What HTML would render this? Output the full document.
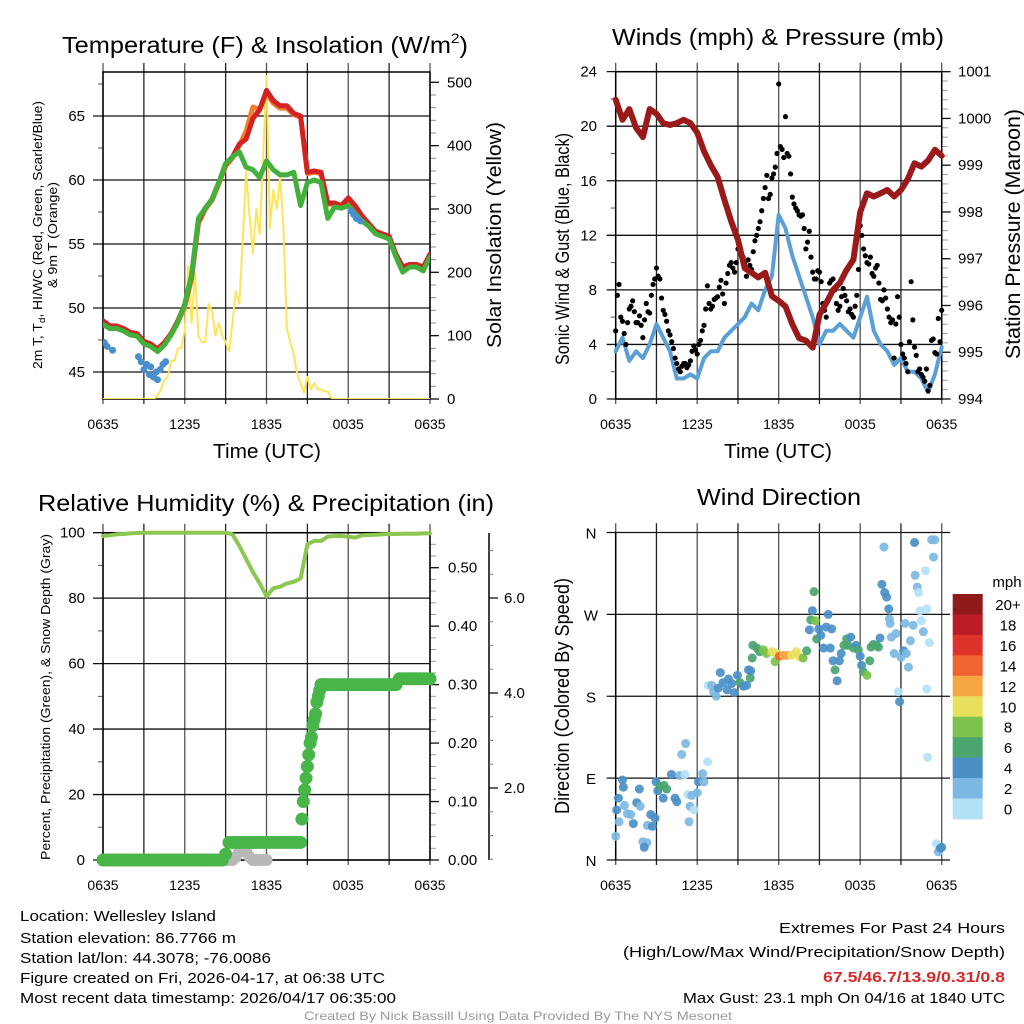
<!DOCTYPE html>
<html><head><meta charset="utf-8"><style>
html,body{margin:0;padding:0;background:#fff;}
svg{display:block;font-family:"Liberation Sans",sans-serif;}
</style></head><body>
<svg id="chart" width="1024" height="1024" viewBox="0 0 1024 1024"></svg>
<script>
// ---------- DATA ----------
const HALF_TIMES_COUNT = 49;
const tempRed = [49.0,48.6,48.6,48.4,48.1,48.0,47.4,47.2,46.8,47.3,48.0,49.0,50.3,52.5,56.8,57.8,58.5,59.8,61.2,61.8,62.8,63.2,64.8,65.5,67.0,66.2,65.8,65.8,65.2,65.0,60.6,60.7,60.6,58.2,58.2,58.0,58.6,58.0,57.2,56.6,56.0,55.8,55.6,54.2,53.2,53.4,53.4,53.2,54.2];
const tempOrange = [48.9,48.5,48.5,48.3,48.0,47.9,47.3,47.1,46.7,47.2,47.9,48.9,50.1,52.3,56.6,57.7,58.4,59.7,61.1,61.7,62.7,63.8,65.7,65.5,66.8,66.0,65.6,65.6,65.1,64.9,60.5,60.6,60.5,58.1,58.1,57.9,58.5,57.9,57.1,56.5,55.9,55.7,55.5,54.1,53.1,53.3,53.3,53.1,54.1];
const tempGreen = [48.7,48.4,48.4,48.2,47.9,47.8,47.2,47.0,46.6,47.1,47.9,48.9,50.3,52.6,57.0,57.8,58.5,59.8,61.3,61.8,62.2,61.0,60.8,60.2,61.5,60.8,60.4,60.4,60.6,58.0,59.8,60.0,59.8,57.0,57.9,57.8,58.0,57.4,56.8,56.4,55.8,55.6,55.4,54.0,52.8,53.2,53.2,52.9,54.0];
const wcTimes = [0.1,0.3,0.7,2.6,2.8,3.0,3.2,3.4,3.5,3.7,3.9,4.0,4.2,4.4,4.6,18.2,18.4,18.6,18.9];
const wcValues = [47.3,47.0,46.7,46.2,45.8,45.2,45.6,44.8,45.4,44.6,45.0,44.4,45.2,45.6,45.8,57.6,57.3,57.0,56.8];
const solar = [0,0,0,0,0,0,0,0,0,0,0,0,0,0,0,0,5,15,30,35,60,60,80,80,110,210,120,200,100,90,90,150,140,100,120,100,90,75,120,170,150,250,360,290,230,300,260,380,510,270,330,300,350,270,110,90,70,40,25,10,35,15,25,15,15,12,12,2,0,0,0,0,0,0,0,0,0,0,0,0,0,0,0,0,0,0,0,0,0,0,0,0,0,0,0,0,0];
const tempTicks = [45,50,55,60,65];
const solarTicks = [0,100,200,300,400,500];
const timeLabels = ["0635","1235","1835","0035","0635"];

const pressure = [1000.4,999.97,1000.2,999.8,999.6,1000.2,1000.1,999.9,999.86,999.9,999.97,999.9,999.7,999.3,999.0,998.75,998.26,997.8,997.4,996.8,996.7,996.6,996.7,996.2,996.1,995.98,995.6,995.3,995.25,995.1,995.8,996.05,996.33,996.48,996.76,996.98,998.0,998.4,998.33,998.4,998.47,998.33,998.47,998.7,999.04,998.97,999.1,999.33,999.2];
const windSpeed = [3.5,4.5,2.8,3.5,3.0,4.0,5.5,4.5,3.5,1.5,1.5,1.8,1.5,3.0,3.5,3.5,4.5,5.0,5.5,6.0,7.0,6.5,8.0,9.0,13.5,12.5,10.5,9.0,7.5,6.0,4.0,5.0,5.0,5.5,5.0,4.5,6.0,7.5,5.0,4.0,3.5,2.5,3.0,2.0,2.0,1.5,0.5,1.8,3.8];
const gust = [5.0,8.4,5.7,4.0,6.6,7.2,5.6,6.1,4.5,7.0,6.3,8.4,9.6,8.8,6.5,5.7,4.7,3.7,2.6,2.0,2.6,2.3,2.8,3.9,3.3,4.3,5.4,8.3,6.6,7.3,7.5,8.7,7.0,9.2,10.0,9.3,11.0,10.7,10.0,10.2,9.5,11.6,12.5,13.8,15.5,14.7,16.2,17.0,23.1,18.3,20.7,17.8,14.8,14.0,13.5,13.5,11.0,12.3,9.3,8.8,9.3,7.0,6.0,8.5,8.8,7.0,6.8,8.1,7.2,6.6,6.0,7.6,12.7,11.0,10.0,10.4,9.0,9.8,7.3,8.0,6.6,5.6,3.0,7.5,4.0,3.0,2.0,8.6,3.8,2.0,1.8,1.3,0.6,4.3,3.4,5.9,6.5];
const gustB = [7.6,6.0,4.8,5.6,6.8,6.4,5.6,5.4,5.8,6.4,
  7.6,8.8,9.0,7.4,6.2,5.0,4.2,3.0,2.2,2.4,
  2.6,2.5,3.5,3.6,4.0,5.0,6.6,7.0,6.8,7.4,
  8.2,7.7,8.5,9.8,9.6,10.0,10.9,10.4,9.0,9.8,
  10.8,12.0,13.0,14.7,16.4,15.0,16.5,18.0,18.5,17.7,
  18.0,16.5,14.3,13.8,13.4,12.5,11.5,10.4,8.8,9.4,
  8.6,6.5,7.2,8.7,8.0,6.5,7.5,7.6,6.4,6.2,
  6.8,9.5,12.0,10.5,9.9,9.2,9.6,8.5,7.2,7.4,
  6.0,5.8,5.5,6.0,3.3,2.6,4.2,5.8,3.2,2.2,
  1.6,2.2,1.0,4.4,3.3,4.2];
const windTicks = [0,4,8,12,16,20,24];
const pressTicks = [994,995,996,997,998,999,1000,1001];

const rh = [99.0,99.2,99.5,99.6,99.8,99.9,100,100,100,100,100,100,100,100,100,100,100,100,100,99.5,96,92,88,84.5,80.5,83,83.5,84.5,85,86,96.5,97.5,97.5,98.8,99,99,98.8,98.5,99.2,99.3,99.4,99.5,99.6,99.6,99.7,99.7,99.7,99.8,99.8];
// precipitation: part A quarter-hours 0..14.5, part B 14.6..16.2 every 0.1 h, part C quarter-hours 16.25..24
const precipA = [0,0,0,0,0,0,0,0,0,0,
  0,0,0,0,0,0,0,0,0,0,
  0,0,0,0,0,0,0,0,0,0,
  0,0,0,0,0,0,
  0.01,
  0.03,0.03,0.03,0.03,0.03,0.03,0.03,0.03,0.03,0.03,
  0.03,0.03,0.03,0.03,0.03,0.03,0.03,0.03,0.03,0.03,
  0.03,0.03];
const precipB = [0.07,0.10,0.12,0.14,0.16,0.18,0.20,0.21,0.23,0.24,0.25,0.27,0.28,0.29,0.30,0.30,0.30];
const precipC = [0.30,0.30,0.30,0.30,0.30,0.30,0.30,0.30,0.30,0.30,
  0.30,0.30,0.30,0.30,0.30,0.30,0.30,0.30,0.30,0.30,
  0.30,0.30,
  0.31,0.31,0.31,0.31,0.31,0.31,0.31,0.31,0.31,0.31];
const snowTimes = [9.0,9.25,9.5,9.75,10.0,10.25,10.5,10.75,11.0,11.25,11.5,11.75,12.0];
const snow = [0,0,0,0.05,0.15,0.15,0.15,0.05,0,0,0,0,0];
const rhTicks = [0,20,40,60,80,100];
const precipTicks = [0,0.1,0.2,0.3,0.4,0.5];
const precipLabels = ["0.00","0.10","0.20","0.30","0.40","0.50"];
const snowTicks = [2,4,6];
const snowLabels = ["2.0","4.0","6.0"];

const dirTimes = [0,0.07,0.2,0.5,0.56,0.64,0.25,0.86,1.1,1.3,1.55,1.74,1.8,2.0,2.3,2.1,2.33,2.58,2.7,2.9,2.97,3.1,3.26,3.56,3.75,3.5,4.1,4.37,4.5,4.7,4.86,5.15,5.1,5.3,5.6,5.47,5.4,5.77,6.0,6.1,6.4,6.5,6.77,6.8,7.07,7.2,7.4,7.55,7.7,7.9,8.2,8.3,8.54,8.74,8.96,9.15,9.4,9.64,9.77,9.9,9.94,10.1,10.05,10.4,10.6,10.87,11.1,11.5,11.73,11.85,12.05,12.34,12.64,12.96,13.3,13.57,13.8,14.06,14.26,14.36,14.48,14.6,14.7,14.8,14.95,15.1,15.3,15.5,15.65,15.8,15.9,16.0,16.15,16.3,16.47,16.6,16.8,17.0,17.1,17.3,17.5,17.7,17.86,18.0,18.1,18.23,18.5,18.7,18.8,18.97,19.2,19.34,19.46,19.6,19.75,19.8,19.95,20.1,20.15,20.2,20.3,20.5,20.64,20.8,20.9,21.0,21.2,21.3,21.4,21.55,21.7,21.9,22.0,22.05,22.2,22.3,22.4,22.5,22.65,22.8,22.9,22.9,22.95,23.1,23.26,23.4,23.5,23.6,23.75,23.9,24];
const dirDegrees = [26,55,68,88,80,60,42,51,50,40,63,78,59,20,19,14,38,50,37,46,86,76,81,82,78,68,94,68,64,93,116,128,94,72,71,59,42,55,74,86,95,86,108,192,192,185,180,189,206,195,187,199,194,184,203,195,191,192,209,200,208,236,222,233,229,231,227,229,218,227,224,225,225,225,229,223,222,230,253,264,274,295,263,243,254,247,233,256,270,233,254,219,209,197,219,227,236,243,236,245,233,236,231,224,214,207,203,219,234,237,236,234,244,303,344,294,289,276,265,260,245,227,249,185,174,223,230,260,227,212,241,258,349,313,300,294,274,263,251,318,276,188,113,239,352,333,352,18,9,13,14];
const dirSpeeds = [2,4,4,4,4,2,2,2,2,4,4,4,2,2,2,4,2,4,4,4,4,4,6,6,6,4,4,4,4,2,2,2,0,0,2,2,2,0,2,4,2,2,0,0,2,2,2,4,4,4,4,4,4,4,4,6,4,4,4,6,4,6,6,6,6,8,8,10,8,10,14,12,12,10,10,10,8,6,4,6,4,6,8,6,4,4,4,4,4,4,4,4,6,4,4,4,6,6,6,4,6,4,6,4,4,6,8,6,6,6,6,6,4,4,2,4,4,4,2,2,2,2,2,0,4,2,4,2,2,2,2,2,4,2,2,0,0,0,2,0,0,0,0,0,2,2,2,0,2,4,4];
const dirTicks = [0,90,180,270,360];
const dirLabels = ["N","E","S","W","N"];
const speedBins = ["0","2","4","6","8","10","12","14","16","18","20+"];
const binColors = ["#b3e1f6","#7db8e3","#4a8fc6","#4aa56e","#7cc24c","#e8e05c","#f6a744","#ef6430","#dd3329","#bb1c26","#8f1a1a"];

// ---------- helpers ----------
const NS = "http://www.w3.org/2000/svg";
const svg = document.getElementById('chart');
function el(tag, attrs, parent){
  const e = document.createElementNS(NS, tag);
  for (const k in attrs) e.setAttribute(k, attrs[k]);
  (parent || svg).appendChild(e);
  return e;
}
function grp(name){
  const g = el('g', {});
  
  
  return g;
}
function txt(parent, x, y, s, size, anchor, opts){
  const t = el('text', {x:x, y:y, 'font-size':size, 'text-anchor':anchor||'start', fill:(opts&&opts.fill)||'#000'}, parent);
  if (opts && opts.len) { t.setAttribute('textLength', opts.len); t.setAttribute('lengthAdjust','spacingAndGlyphs'); }
  if (opts && opts.weight) t.setAttribute('font-weight', opts.weight);
  if (opts && opts.rot) t.setAttribute('transform', 'rotate(-90 '+x+' '+y+')');
  t.textContent = s;
  return t;
}
function ln(parent, x1,y1,x2,y2, stroke, w){
  return el('line', {x1:x1,y1:y1,x2:x2,y2:y2,stroke:stroke,'stroke-width':w}, parent);
}
function polyline(parent, times, vals, xf, yf, color, w){
  let d = '';
  const n = Math.min(times.length, vals.length);
  for (let i=0;i<n;i++){ d += (i?'L':'M') + xf(times[i]).toFixed(1) + ' ' + yf(vals[i]).toFixed(1); }
  return el('path', {d:d, fill:'none', stroke:color, 'stroke-width':w, 'stroke-linejoin':'round', 'stroke-linecap':'round'}, parent);
}
const halfT = []; for (let i=0;i<HALF_TIMES_COUNT;i++) halfT.push(i*0.5);
const qT = []; for (let i=0;i<97;i++) qT.push(i*0.25);
const qTB = []; for (let i=0;i<96;i++) qTB.push(0.125 + i*0.25);
const precipTimes = [], precipValues = [];
for (let i=0;i<precipA.length;i++){ precipTimes.push(i*0.25); precipValues.push(precipA[i]); }
for (let i=0;i<precipB.length;i++){ precipTimes.push(14.6 + i*0.1); precipValues.push(precipB[i]); }
for (let i=0;i<precipC.length;i++){ precipTimes.push(16.25 + i*0.25); precipValues.push(precipC[i]); }

const L1 = 103, R1 = 430, L2 = 615.7, R2 = 941.7;
const X1 = t => L1 + t/24*(R1-L1);
const X2 = t => L2 + t/24*(R2-L2);

function timeGrid(g, xf, top, bot){
  for (let k=0;k<=8;k++){
    const x = xf(k*3);
    ln(g, x, top-9, x, bot+5, (k%2===0)?'#555':'#222', 1.3);
  }
}
function timeLabelsDraw(g, xf, y){
  for (let k=0;k<timeLabels.length;k++){
    const lab = txt(g, xf(k*6), y, timeLabels[k], 14, 'middle');
    
    
  }
}

// ================= PANEL 1 =================
(function(){
  const g = grp('temperature-panel');
  const top = 72, bot = 399;
  const yT = v => 116 + (65 - v)*12.8;
  const yS = v => 399 - v*0.6334;
  for (let v=42.5; v<=67.5; v+=2.5){ if (yT(v)>=top && yT(v)<=bot) ln(g, 98, yT(v), L1, yT(v), '#555', 1); }
  for (let v=0; v<=510; v+=20){ ln(g, R1, yS(v), R1+6, yS(v), '#888', 1); }
  timeGrid(g, X1, top, bot);
  tempTicks.forEach(v => { ln(g, 93, yT(v), R1, yT(v), '#111', 1.3); const l = txt(g, 85, yT(v)+5, String(v), 15, 'end');   });
  solarTicks.forEach(v => { ln(g, R1, yS(v), R1+9, yS(v), '#111', 1.3); const l = txt(g, 447, yS(v)+5, String(v), 15, 'start');   });
  el('rect', {x:L1, y:top, width:R1-L1, height:bot-top, fill:'none', stroke:'#000', 'stroke-width':1.5}, g);
  const clip = el('clipPath', {id:'c1'}, g); el('rect', {x:L1, y:top-6, width:R1-L1, height:bot-top+6}, clip);
  const data = el('g', {'clip-path':'url(#c1)'}, g);
  const sol = polyline(data, qT, solar, X1, yS, '#fde55a', 2);
  
  
  const or = polyline(data, halfT, tempOrange, X1, yT, '#f08030', 5);
  
  
  const rd = polyline(data, halfT, tempRed, X1, yT, '#d42222', 5);
  
  
  const gr = polyline(data, halfT, tempGreen, X1, yT, '#44b03c', 5);
  
  
  for (let i=0;i<wcTimes.length;i++){
    const c = el('circle', {cx:X1(wcTimes[i]), cy:yT(wcValues[i]), r:3.5, fill:'#4a8fcc'}, data);
    
    
  }
  timeLabelsDraw(g, X1, 429);
  const t = txt(g, 266, 53, 'Temperature (F) & Insolation (W/m', 23, 'middle');
  const sup = el('tspan', {dy:-10, 'font-size':14}, t); sup.textContent='2';
  const cl = el('tspan', {dy:10}, t); cl.textContent=')';
  t.setAttribute('x', 265); t.setAttribute('textLength', 406); t.setAttribute('lengthAdjust','spacingAndGlyphs');
  
  
  const xt = txt(g, 267, 458, 'Time (UTC)', 20, 'middle', {len:108});
  
  
  const y1 = txt(g, 42, 235, '2m T, T', 13, 'middle', {rot:true});
  const sub = el('tspan', {'font-size':9, dy:3}, y1); sub.textContent='d';
  const rest = el('tspan', {dy:-3}, y1); rest.textContent=', HI/WC (Red, Green, Scarlet/Blue)';
  y1.setAttribute('textLength', 268); y1.setAttribute('lengthAdjust','spacingAndGlyphs');
  
  
  const y2 = txt(g, 57, 235, '& 9m T (Orange)', 13, 'middle', {rot:true, len:106});
  
  
  const y3 = txt(g, 501, 235, 'Solar Insolation (Yellow)', 20, 'middle', {rot:true, len:226});
  
  
})();

// ================= PANEL 2 =================
(function(){
  const g = grp('wind-pressure-panel');
  const top = 71.7, bot = 399;
  const yW = v => 399 - v*13.64;
  const yP = v => 399 - (v-994)*46.76;
  for (let v=2; v<24; v+=4) ln(g, L2-5, yW(v), L2, yW(v), '#555', 1);
  for (let v=994; v<=1001.001; v+=0.2) ln(g, R2, yP(v), R2+6, yP(v), '#999', 1);
  timeGrid(g, X2, top, bot);
  windTicks.forEach(v => { ln(g, L2-9, yW(v), R2, yW(v), '#111', 1.3); const l = txt(g, 597, yW(v)+5, String(v), 15, 'end');   });
  pressTicks.forEach(v => { ln(g, R2, yP(v), R2+9, yP(v), '#111', 1.3); const l = txt(g, 958, yP(v)+5, String(v), 15, 'start');   });
  el('rect', {x:L2, y:top, width:R2-L2, height:bot-top, fill:'none', stroke:'#000', 'stroke-width':1.5}, g);
  const clip = el('clipPath', {id:'c2'}, g); el('rect', {x:L2-4, y:top-4, width:R2-L2+8, height:bot-top+6}, clip);
  const data = el('g', {'clip-path':'url(#c2)'}, g);
  const ws = polyline(data, halfT, windSpeed, X2, yW, '#5a9fd6', 4);
  
  
  for (let i=0;i<Math.min(gust.length, qT.length);i++){
    const c = el('circle', {cx:X2(qT[i]), cy:yW(gust[i]), r:2.6, fill:'#000'}, data);
    
    
  }
  for (let i=0;i<Math.min(gustB.length, qTB.length);i++){
    const c = el('circle', {cx:X2(qTB[i]), cy:yW(gustB[i]), r:2.6, fill:'#000'}, data);
    
    
  }
  const pr = polyline(data, halfT, pressure, X2, yP, '#9a1a1a', 6);
  
  
  timeLabelsDraw(g, X2, 429);
  const t = txt(g, 778, 45, 'Winds (mph) & Pressure (mb)', 23, 'middle', {len:332});
  
  
  const xt = txt(g, 778, 458, 'Time (UTC)', 20, 'middle', {len:108});
  
  
  const y1 = txt(g, 569, 249, 'Sonic Wind & Gust (Blue, Black)', 19, 'middle', {rot:true, len:232});
  
  
  const y2 = txt(g, 1020, 234, 'Station Pressure (Maroon)', 21, 'middle', {rot:true, len:250});
  
  
})();

// ================= PANEL 3 =================
(function(){
  const g = grp('humidity-precip-panel');
  const top = 532.7, bot = 860;
  const yR = v => 860 - v*3.273;
  const yPr = v => 860 - v*584.6;
  const ySn = v => 883 - v*47.5;
  const ySnowPlot = v => 860 - v*60;
  for (let v=10; v<100; v+=20) ln(g, 98, yR(v), L1, yR(v), '#555', 1);
  for (let v=0; v<=0.56; v+=0.02) ln(g, R1, yPr(v), R1+6, yPr(v), '#999', 1);
  timeGrid(g, X1, top, bot);
  rhTicks.forEach(v => { ln(g, 93, yR(v), R1, yR(v), '#111', 1.3); const l = txt(g, 85, yR(v)+5, String(v), 15, 'end');   });
  precipTicks.forEach((v,i) => { ln(g, R1, yPr(v), R1+9, yPr(v), '#111', 1.3); const l = txt(g, 448, yPr(v)+5, precipLabels[i], 15, 'start');   });
  const sax = ln(g, 489, 533, 489, 860, '#000', 1.5);
  
  
  for (let v=0.5; v<=7.0; v+=0.5){ const y = ySn(v); if (y>=533 && y<=860) ln(g, 489, y, 493, y, '#777', 1); }
  snowTicks.forEach((v,i) => { ln(g, 489, ySn(v), 498, ySn(v), '#111', 1.3); const l = txt(g, 504, ySn(v)+5, snowLabels[i], 15, 'start');   });
  el('rect', {x:L1, y:top, width:R1-L1, height:bot-top, fill:'none', stroke:'#000', 'stroke-width':1.5}, g);
  const data = el('g', {}, g);
  for (let i=0;i<Math.min(snow.length, snowTimes.length);i++){
    const c = el('circle', {cx:X1(snowTimes[i]), cy:ySnowPlot(snow[i]), r:6, fill:'#b8b8b8'}, data);
    
    
  }
  for (let i=0;i<precipValues.length;i++){
    const c = el('circle', {cx:X1(precipTimes[i]), cy:yPr(precipValues[i]), r:6.5, fill:'#48b548'}, data);
    
    
  }
  const rl = polyline(data, halfT, rh, X1, yR, '#8cc850', 4);
  
  
  timeLabelsDraw(g, X1, 890);
  const t = txt(g, 266, 511, 'Relative Humidity (%) & Precipitation (in)', 23, 'middle', {len:456});
  
  
  const y1 = txt(g, 50, 697, 'Percent, Precipitation (Green), & Snow Depth (Gray)', 13, 'middle', {rot:true, len:326});
  
  
})();

// ================= PANEL 4 =================
(function(){
  const g = grp('wind-direction-panel');
  const top = 532.3, bot = 860;
  const yD = d => 860 - d*0.9097;
  timeGrid(g, X2, top, bot);
  dirTicks.forEach((d,i) => { ln(g, L2-9, yD(d), 950, yD(d), '#111', 1.3); const l = txt(g, 591, yD(d)+6, dirLabels[i], 15, 'middle');   });
  ln(g, L2, top, L2, bot, '#000', 1.5);
  const data = el('g', {}, g);
  const binIndex = s => Math.min(10, Math.max(0, Math.round(s/2)));
  for (let i=0;i<dirTimes.length;i++){
    const c = el('circle', {cx:X2(dirTimes[i]), cy:yD(dirDegrees[i]), r:4.5, fill:binColors[binIndex(dirSpeeds[i])], 'fill-opacity':0.92}, data);
    
    
  }
  timeLabelsDraw(g, X2, 890);
  const t = txt(g, 779, 505, 'Wind Direction', 23, 'middle', {len:164});
  
  
  const y1 = txt(g, 569, 696, 'Direction (Colored By Speed)', 20, 'middle', {rot:true, len:236});
  
  
  const cb = grp('speed-colorbar');
  const cbTop = 594, binH = 20.45;
  for (let k=0;k<11;k++){
    const idx = 10-k;
    const r = el('rect', {x:952.7, y:cbTop + k*binH, width:30, height:binH+0.5, fill:binColors[idx]}, cb);
    
    
    const l = txt(cb, 1008, cbTop + k*binH + 16, speedBins[idx], 15, 'middle');
    
    
  }
  const mph = txt(cb, 1007, 587, 'mph', 15, 'middle');
  
  
})();

// ================= FOOTER =================
(function(){
  const g = grp('footer-info');
  const lines = [["Location: Wellesley Island",921,196],["Station elevation: 86.7766 m",943,216],["Station lat/lon: 44.3078; -76.0086",963,251],["Figure created on Fri, 2026-04-17, at 06:38 UTC",983,365],["Most recent data timestamp: 2026/04/17 06:35:00",1003,376]];
  lines.forEach(a => { const t = txt(g, 20, a[1], a[0], 15, 'start', {len:a[2]});   });
  const r = [["Extremes For Past 24 Hours",933,226,'#000',null],["(High/Low/Max Wind/Precipitation/Snow Depth)",957,382,'#000',null],["67.5/46.7/13.9/0.31/0.8",982,182,'#d42a2a','bold'],["Max Gust: 23.1 mph On 04/16 at 1840 UTC",1003,322,'#000',null]];
  r.forEach(a => { const t = txt(g, 1005, a[1], a[0], 15, 'end', {len:a[2], fill:a[3], weight:a[4]});   });
  const c = txt(g, 518, 1020, 'Created By Nick Bassill Using Data Provided By The NYS Mesonet', 12, 'middle', {len:428, fill:'#999'});
  
  
})();
</script>
</body></html>
